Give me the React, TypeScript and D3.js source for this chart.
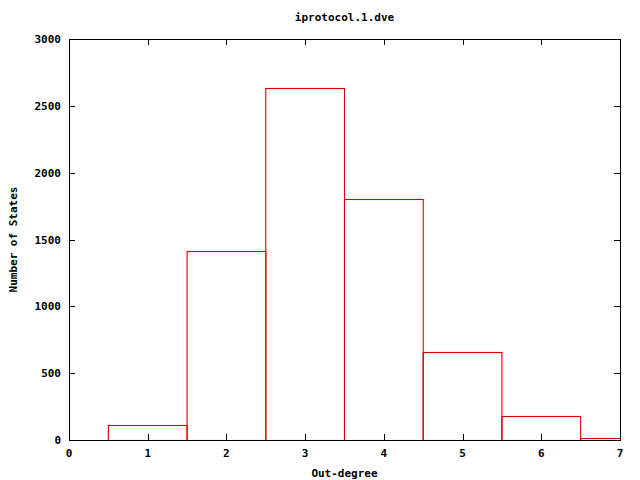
import React from "react";
import { scaleLinear } from "d3";

const degrees = [1, 2, 3, 4, 5, 6, 7];
const states = [115, 1412, 2630, 1800, 656, 180, 13];
const xTicks = [0, 1, 2, 3, 4, 5, 6, 7];
const yTicks = [0, 500, 1000, 1500, 2000, 2500, 3000];

const width = 640;
const height = 480;
const left = 69;
const right = 620;
const top = 39;
const bottom = 440;
const font = "'DejaVu Sans Mono', monospace";

const App = () => {
  const x = scaleLinear().domain([0, 7]).range([left, right]);
  const y = scaleLinear().domain([0, 3000]).range([bottom, top]);
  const py = (v: number) => Math.round(y(v)) + 0.5;
  const tick = 6;

  return (
    <svg
      width={width}
      height={height}
      style={{ position: "absolute", left: 0, top: 0, background: "#fff" }}
      fontFamily={font}
      fontWeight="bold"
      fontSize={11}
    >
      <defs>
        <clipPath id="plot">
          <rect x={left} y={top} width={right - left + 1} height={bottom - top} />
        </clipPath>
      </defs>

      <text x={(left + right) / 2} y={21} textAnchor="middle">
        iprotocol.1.dve
      </text>

      {/* bars */}
      <g clipPath="url(#plot)">
        {degrees.map((d, i) => (
          <rect
            key={d}
            x={x(d - 0.5)}
            y={py(states[i])}
            width={x(d + 0.5) - x(d - 0.5)}
            height={py(0) - py(states[i])}
            fill="none"
            stroke="#dd0000"
            strokeWidth={1.1}
          />
        ))}
      </g>

      {/* y ticks */}
      {yTicks.map((t) => (
        <g key={t}>
          <line x1={left} x2={left + tick} y1={py(t)} y2={py(t)} stroke="#000" />
          <line x1={right - tick} x2={right} y1={py(t)} y2={py(t)} stroke="#000" />
          <text x={left - 8} y={y(t) + 4} textAnchor="end">
            {t}
          </text>
        </g>
      ))}

      {/* x ticks */}
      {xTicks.map((t) => (
        <g key={t}>
          <line x1={Math.round(x(t)) + 0.5} x2={Math.round(x(t)) + 0.5} y1={bottom} y2={bottom - tick} stroke="#000" />
          <line x1={Math.round(x(t)) + 0.5} x2={Math.round(x(t)) + 0.5} y1={top} y2={top + tick} stroke="#000" />
          <text x={x(t)} y={bottom + 17} textAnchor="middle">
            {t}
          </text>
        </g>
      ))}

      <rect
        x={left + 0.5}
        y={top + 0.5}
        width={right - left}
        height={bottom - top}
        fill="none"
        stroke="#000"
      />

      <text x={(left + right) / 2} y={477} textAnchor="middle">
        Out-degree
      </text>
      <text
        transform={`translate(17, ${(top + bottom) / 2}) rotate(-90)`}
        textAnchor="middle"
      >
        Number of States
      </text>
    </svg>
  );
};

export default App;
